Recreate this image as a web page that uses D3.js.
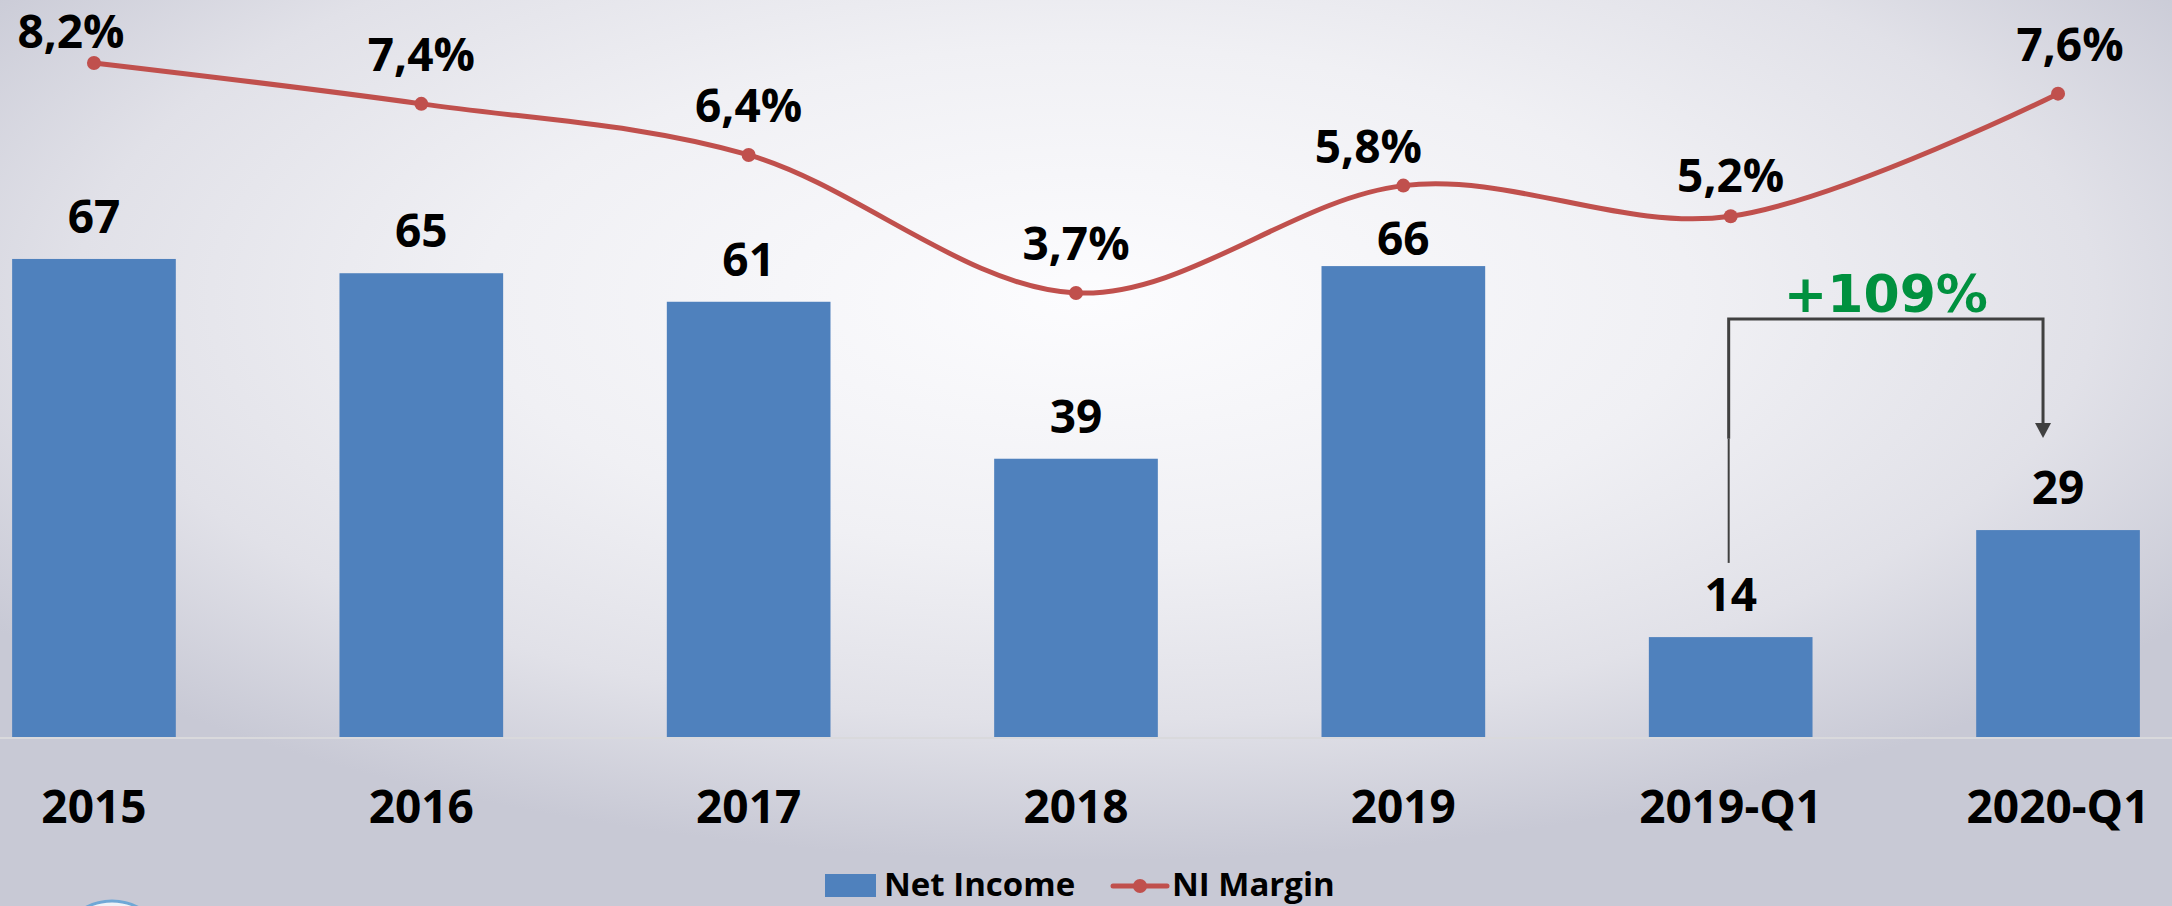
<!DOCTYPE html>
<html><head><meta charset="utf-8">
<script src="https://cdn.jsdelivr.net/npm/d3@7"></script>
<style>html,body{margin:0;padding:0;overflow:hidden;background:#e6e6ec}svg{display:block}</style>
</head><body><svg id="chart" width="2172" height="906"></svg>
<script>
// ---- data ----
const categories = ["2015", "2016", "2017", "2018", "2019", "2019-Q1", "2020-Q1"];
const netIncome  = [67, 65, 61, 39, 66, 14, 29];
const niMargin   = [8.2, 7.4, 6.4, 3.7, 5.8, 5.2, 7.6];
const seriesNames = ["Net Income", "NI Margin"];
const changeFrom = "2019-Q1";
const changeTo = "2020-Q1";
const changeText = "+109%";

// ---- setup ----
const W = 2172, H = 906;
const svg = d3.select("#chart");
const defs = svg.append("defs");
const grad = defs.append("radialGradient").attr("id", "bg")
  .attr("cx", 0.5).attr("cy", 0.33).attr("r", 0.62);
[[0, "#fcfcfe"], [0.45, "#f0f0f4"], [0.75, "#e1e1e8"], [1, "#c8c9d5"]]
  .forEach(([o, c]) => grad.append("stop").attr("offset", o).attr("stop-color", c));
svg.append("rect").attr("width", W).attr("height", H).attr("fill", "url(#bg)");

const FONT = "'Open Sans', 'Noto Sans', sans-serif";
const BAR = "#4F81BD", LINE = "#C0504D";

const x = d3.scaleBand().domain(categories).range([-69.7, 2221.7])
  .paddingInner(0.5).paddingOuter(0.25);
const baseY = 737;
const y = d3.scaleLinear().domain([0, 80]).range([baseY, baseY - 80 * 7.135]);
const y2 = d3.scaleLinear().domain([0, 10]).range([482, -29]);
const cx = c => x(c) + x.bandwidth() / 2;

const locale = d3.formatLocale({decimal: ",", thousands: ".", grouping: [3], currency: ["", "€"]});
const fmtPct = v => locale.format(".1f")(v) + "%";

// logo fragment at bottom-left
svg.append("circle").attr("cx", 112).attr("cy", 956).attr("r", 55)
  .attr("fill", "#eef2f7").attr("stroke", "#6fa8d6").attr("stroke-width", 3);

// baseline
svg.append("line").attr("x1", 0).attr("x2", W).attr("y1", baseY + 1).attr("y2", baseY + 1)
  .attr("stroke", "#d9d9dc").attr("stroke-width", 2);

// bars
svg.append("g").selectAll("rect").data(categories).join("rect")
  .attr("x", d => x(d)).attr("width", x.bandwidth())
  .attr("y", (d, i) => y(netIncome[i])).attr("height", (d, i) => y(0) - y(netIncome[i]))
  .attr("fill", BAR);

// bar labels
const barNudge = {"2019": 15};
svg.append("g").selectAll("text").data(categories).join("text")
  .attr("x", d => cx(d)).attr("y", (d, i) => y(netIncome[i]) - 26 + (barNudge[d] || 0))
  .attr("text-anchor", "middle").attr("font-family", FONT).attr("font-weight", 700)
  .attr("font-size", 46).attr("fill", "#000").text((d, i) => netIncome[i]);

// category labels
svg.append("g").selectAll("text").data(categories).join("text")
  .attr("x", d => cx(d)).attr("y", 823)
  .attr("text-anchor", "middle").attr("font-family", FONT).attr("font-weight", 700)
  .attr("font-size", 46).attr("fill", "#000").text(d => d);

// margin line
const pts = categories.map((c, i) => [cx(c), y2(niMargin[i])]);
svg.append("path").attr("d", d3.line().curve(d3.curveCardinal.tension(0))(pts))
  .attr("fill", "none").attr("stroke", LINE).attr("stroke-width", 5)
  .attr("stroke-linecap", "round");
svg.append("g").selectAll("circle").data(pts).join("circle")
  .attr("cx", d => d[0]).attr("cy", d => d[1]).attr("r", 7).attr("fill", LINE);

// margin labels
const pctNudge = {"2015": [-23, 18], "2019": [-35, 10], "2019-Q1": [0, 9], "2020-Q1": [12, 0]};
svg.append("g").selectAll("text").data(categories).join("text")
  .attr("x", (d, i) => pts[i][0] + (pctNudge[d] ? pctNudge[d][0] : 0))
  .attr("y", (d, i) => pts[i][1] - 33 + (pctNudge[d] ? pctNudge[d][1] : 0))
  .attr("text-anchor", "middle").attr("font-family", FONT).attr("font-weight", 700)
  .attr("font-size", 46).attr("fill", "#000").text((d, i) => fmtPct(niMargin[i]));

// change annotation bracket
const lx = cx(changeFrom) - 2, rx = cx(changeTo) - 15;
const topY = y(58.6), tipY = y(41.9), midY = y(41.8), startY = y(24.4);
const ANN = "#404040";
svg.append("path").attr("d", `M${lx},${midY}L${lx},${topY}L${rx},${topY}L${rx},${tipY - 15}`)
  .attr("fill", "none").attr("stroke", ANN).attr("stroke-width", 3);
svg.append("line").attr("x1", lx).attr("x2", lx).attr("y1", midY).attr("y2", startY)
  .attr("stroke", ANN).attr("stroke-width", 2);
svg.append("path").attr("d", `M${rx - 8},${tipY - 15}L${rx + 8},${tipY - 15}L${rx},${tipY}Z`)
  .attr("fill", ANN);
svg.append("text").attr("x", (lx + rx) / 2).attr("y", topY - 7)
  .attr("text-anchor", "middle").attr("font-family", "'DejaVu Sans', sans-serif")
  .attr("font-weight", 700).attr("font-size", 52).attr("fill", "#00913F").text(changeText);

// legend
const lg = svg.append("g");
lg.append("rect").attr("x", 825).attr("y", 874).attr("width", 51).attr("height", 23).attr("fill", BAR);
lg.append("text").attr("x", 884).attr("y", 896).attr("font-family", FONT).attr("font-weight", 700)
  .attr("font-size", 33).attr("fill", "#000").text(seriesNames[0]);
lg.append("line").attr("x1", 1113).attr("x2", 1167).attr("y1", 886).attr("y2", 886)
  .attr("stroke", LINE).attr("stroke-width", 5).attr("stroke-linecap", "round");
lg.append("circle").attr("cx", 1140).attr("cy", 886).attr("r", 7).attr("fill", LINE);
lg.append("text").attr("x", 1172).attr("y", 896).attr("font-family", FONT).attr("font-weight", 700)
  .attr("font-size", 33).attr("fill", "#000").text(seriesNames[1]);
</script>
</body></html>
